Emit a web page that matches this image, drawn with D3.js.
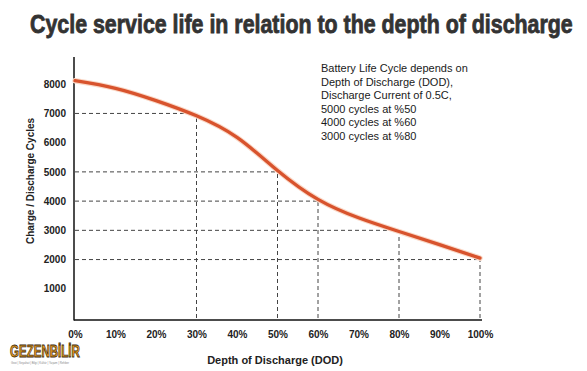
<!DOCTYPE html>
<html lang="en">
<head>
<meta charset="UTF-8">
<title>Cycle service life</title>
<script src="https://cdn.jsdelivr.net/npm/d3@7"></script>
<style>
    body { margin: 0; background: #fff; }
    .axis text { font-family: "Liberation Sans", Arial, sans-serif; font-size: 10px; font-weight: bold; fill: #222; }
</style>
</head>
<body>
<script>
// values
const dod = [0, 10, 20, 30, 40, 50, 60, 70, 80, 90, 100];
const cycles = [8120, 7860, 7440, 6920, 6180, 5050, 4060, 3430, 2960, 2510, 2050];
const markDod = [30, 50, 60, 80, 100];
const markCycles = [7000, 5000, 4000, 3000, 2000];
const yTicks = [1000, 2000, 3000, 4000, 5000, 6000, 7000, 8000];
const xTicks = [0, 10, 20, 30, 40, 50, 60, 70, 80, 90, 100];
const noteLines = [
    "Battery Life Cycle depends on",
    "Depth of Discharge (DOD),",
    "Discharge Current of 0.5C,",
    "5000 cycles at %50",
    "4000 cycles at %60",
    "3000 cycles at %80"
];

const w = 587, h = 371;
const svg = d3.select("body").append("svg")
    .attr("width", w)
    .attr("height", h);

const x = d3.scaleLinear().domain([0, 100]).range([75, 480]);
const y = d3.scaleLinear().domain([0, 9000]).range([318, 55]);

// title, squeezed horizontally to the width it has in the picture
const title = svg.append("text")
    .attr("x", 0).attr("y", 0)
    .style("font-family", "'Liberation Sans', Arial, sans-serif")
    .style("font-weight", "bold")
    .style("font-size", "25px")
    .style("fill", "#333")
    .style("stroke", "#333")
    .style("stroke-width", 0.8)
    .text("Cycle service life in relation to the depth of discharge");
const sx = 543 / title.node().getComputedTextLength();
title.attr("transform", "translate(30,33) scale(" + sx + ",1)");

// dashed guide lines
const marks = markDod.map((d, i) => ({ dod: d, cycles: markCycles[i] }));
const guides = svg.append("g")
    .attr("stroke", "#444")
    .attr("stroke-width", 1)
    .attr("stroke-dasharray", "4,3");
guides.selectAll(".hg").data(marks).enter().append("line")
    .attr("x1", x(0)).attr("x2", d => x(d.dod))
    .attr("y1", d => y(d.cycles)).attr("y2", d => y(d.cycles));
guides.selectAll(".vg").data(marks).enter().append("line")
    .attr("x1", d => x(d.dod)).attr("x2", d => x(d.dod))
    .attr("y1", y(0)).attr("y2", d => y(d.cycles));

// axes
const yAxis = d3.axisLeft(y).tickValues(yTicks).tickSize(0).tickPadding(9)
    .tickFormat(d3.format("d"));
svg.append("g")
    .attr("class", "axis")
    .attr("transform", "translate(" + x(0) + ",0)")
    .call(yAxis)
    .call(g => g.select(".domain").remove());

const xAxis = d3.axisBottom(x).tickValues(xTicks).tickSize(0).tickPadding(11)
    .tickFormat(d => d + "%");
svg.append("g")
    .attr("class", "axis")
    .attr("transform", "translate(0," + (y(0) + 2) + ")")
    .call(xAxis)
    .call(g => g.select(".domain").remove());

svg.append("line")
    .attr("x1", x(0) - 1).attr("x2", x(0) - 1)
    .attr("y1", 57).attr("y2", y(0) + 2.5)
    .attr("stroke", "#111").attr("stroke-width", 1.5);
svg.append("line")
    .attr("x1", x(0) - 1).attr("x2", x(100) + 2)
    .attr("y1", y(0) + 2).attr("y2", y(0) + 2)
    .attr("stroke", "#111").attr("stroke-width", 1.5);

// curve
const pts = dod.map((d, i) => [x(d), y(cycles[i])]);
const line = d3.line().curve(d3.curveNatural);
svg.append("path")
    .attr("d", line(pts))
    .attr("fill", "none")
    .attr("stroke", "#fad9c8")
    .attr("stroke-width", 5.5)
    .attr("stroke-linecap", "round");
svg.append("path")
    .attr("d", line(pts))
    .attr("fill", "none")
    .attr("stroke", "#d8532d")
    .attr("stroke-width", 3.3)
    .attr("stroke-linecap", "round");

// axis titles
svg.append("text")
    .attr("transform", "translate(34,181) rotate(-90)")
    .attr("text-anchor", "middle")
    .style("font-family", "'Liberation Sans', Arial, sans-serif")
    .style("font-size", "10px")
    .style("font-weight", "bold")
    .style("fill", "#222")
    .text("Charge / Discharge Cycles");

svg.append("text")
    .attr("x", 275).attr("y", 364)
    .attr("text-anchor", "middle")
    .style("font-family", "'Liberation Sans', Arial, sans-serif")
    .style("font-size", "11px")
    .style("font-weight", "bold")
    .style("fill", "#222")
    .text("Depth of Discharge (DOD)");

// note
svg.append("g").selectAll("text").data(noteLines).enter().append("text")
    .attr("x", 321)
    .attr("y", (d, i) => 72 + i * 13.5)
    .style("font-family", "'Liberation Sans', Arial, sans-serif")
    .style("font-size", "11px")
    .style("fill", "#1a1a1a")
    .text(d => d);

// logo
const logo = svg.append("text")
    .attr("x", 0).attr("y", 0)
    .style("font-family", "'Liberation Sans', sans-serif")
    .style("font-size", "16px")
    .style("font-weight", "bold")
    .style("fill", "#f3a21c")
    .style("stroke", "#3a2a10")
    .style("stroke-width", 0.8)
    .text("GEZENBİLİR");
logo.attr("transform", "translate(10,357) scale(" + (70 / logo.node().getComputedTextLength()) + ",1)");
svg.append("text")
    .attr("x", 11).attr("y", 364)
    .attr("textLength", 58)
    .attr("lengthAdjust", "spacingAndGlyphs")
    .style("font-family", "'Liberation Sans', sans-serif")
    .style("font-size", "3.5px")
    .style("fill", "#888")
    .text("Gezi | Seyahat | Bilgi | Kültür | Yaşam | Rehber");
</script>
</body>
</html>
